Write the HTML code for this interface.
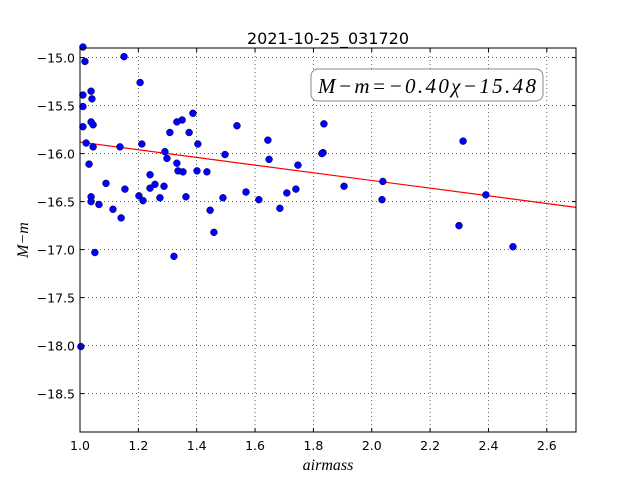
<!DOCTYPE html>
<html><head><meta charset="utf-8"><style>
body{margin:0;background:#fff;}
svg{display:block;font-family:"DejaVu Sans","Liberation Sans",sans-serif;}
</style></head><body>
<svg id="chart" width="640" height="480">
<rect width="640" height="480" fill="#fff"/>
<text x="328" y="44" font-size="16" text-anchor="middle">2021-10-25_031720</text>
<g id="grid"></g>
<g id="ticks"></g>
<g id="fit"></g>
<g id="points"></g>
<rect x="80" y="48" width="496" height="384" fill="none" stroke="#000" stroke-width="1"/>
<g>
<rect x="311" y="69" width="232" height="32" rx="7" fill="#fff" stroke="#888" stroke-width="1"/>
<text x="427" y="93" font-size="21" text-anchor="middle" font-family="Liberation Serif,serif" font-style="italic" textLength="218">M−m=−0.40χ−15.48</text>
</g>
<text x="328" y="470" font-size="16" text-anchor="middle" font-family="Liberation Serif,serif" font-style="italic">airmass</text>
<text x="28" y="240" font-size="16" text-anchor="middle" font-family="Liberation Serif,serif" font-style="italic" transform="rotate(-90 28 240)">M−m</text>
</svg>
<script>
const xTicks=[1.0,1.2,1.4,1.6,1.8,2.0,2.2,2.4,2.6];
const xTickLabels=["1.0","1.2","1.4","1.6","1.8","2.0","2.2","2.4","2.6"];
const yTicks=[-15.0,-15.5,-16.0,-16.5,-17.0,-17.5,-18.0,-18.5];
const yTickLabels=["−15.0","−15.5","−16.0","−16.5","−17.0","−17.5","−18.0","−18.5"];
const airmass=[1.01,1.017,1.151,1.206,1.01,1.038,1.041,1.01,1.01,1.038,1.045,1.021,1.045,1.137,1.212,1.031,1.089,1.154,1.038,1.038,1.065,1.113,1.141,1.051,1.202,1.216,1.322,1.003,
1.240,1.257,1.240,1.288,1.274,1.363,1.446,1.459,1.387,1.350,1.332,1.308,1.374,1.538,1.404,1.291,1.298,1.332,1.336,1.353,1.401,1.435,1.497,1.490,1.569,1.613,1.644,1.648,1.685,1.709,1.740,1.747,1.836,1.833,1.829,1.905,2.038,2.035,2.299,2.313,2.391,2.484];
const mag=[-14.89,-15.04,-14.99,-15.26,-15.39,-15.35,-15.43,-15.51,-15.72,-15.67,-15.70,-15.89,-15.93,-15.93,-15.90,-16.11,-16.31,-16.37,-16.45,-16.50,-16.53,-16.58,-16.67,-17.03,-16.44,-16.49,-17.07,-18.01,
-16.22,-16.32,-16.36,-16.34,-16.46,-16.45,-16.59,-16.82,-15.58,-15.65,-15.67,-15.78,-15.78,-15.71,-15.90,-15.98,-16.05,-16.10,-16.18,-16.19,-16.18,-16.19,-16.01,-16.46,-16.40,-16.48,-15.86,-16.06,-16.57,-16.41,-16.37,-16.12,-15.69,-15.99,-16.00,-16.34,-16.29,-16.48,-16.75,-15.87,-16.43,-16.97];
const fitSlope=[-0.40];
const fitIntercept=[-15.48];
const NS="http://www.w3.org/2000/svg";
const X0=80,X1=576,Y0=48,Y1=432,xmin=1.0,xmax=2.7,ymax=-14.9,ymin=-18.9;
function sx(v){return X0+(v-xmin)/(xmax-xmin)*(X1-X0);}
function sy(v){return Y0+(ymax-v)/(ymax-ymin)*(Y1-Y0);}
function mk(tag,attrs,parent){const e=document.createElementNS(NS,tag);for(const k in attrs)e.setAttribute(k,attrs[k]);parent.appendChild(e);return e;}
const grid=document.getElementById('grid'),ticks=document.getElementById('ticks');
xTicks.forEach((t,i)=>{const x=sx(t);
const g=mk('line',{x1:x,x2:x,y1:Y0,y2:Y1,stroke:'#000','stroke-width':0.6,'stroke-dasharray':'1,3'},grid);


mk('line',{x1:x,x2:x,y1:Y1,y2:Y1-4,stroke:'#000'},ticks);
mk('line',{x1:x,x2:x,y1:Y0,y2:Y0+4,stroke:'#000'},ticks);
const tx=mk('text',{x:x,y:Y1+18,'font-size':12.5,'text-anchor':'middle'},ticks);tx.textContent=xTickLabels[i];

});
yTicks.forEach((t,i)=>{const y=sy(t);
const g=mk('line',{x1:X0,x2:X1,y1:y,y2:y,stroke:'#000','stroke-width':0.6,'stroke-dasharray':'1,3'},grid);


mk('line',{x1:X0,x2:X0+4,y1:y,y2:y,stroke:'#000'},ticks);
mk('line',{x1:X1,x2:X1-4,y1:y,y2:y,stroke:'#000'},ticks);
const tx=mk('text',{x:X0-5,y:y+5,'font-size':12.5,'text-anchor':'end'},ticks);tx.textContent=yTickLabels[i];

});
const fl=mk('line',{x1:sx(xmin),y1:sy(fitSlope[0]*xmin+fitIntercept[0]),x2:sx(xmax),y2:sy(fitSlope[0]*xmax+fitIntercept[0]),stroke:'#f00','stroke-width':1.2},document.getElementById('fit'));


const pts=document.getElementById('points');
airmass.forEach((a,i)=>{const c=mk('circle',{cx:sx(a),cy:sy(mag[i]),r:3.5,fill:'#0000ff',stroke:'#000','stroke-width':0.4},pts);

});
</script>
</body></html>
